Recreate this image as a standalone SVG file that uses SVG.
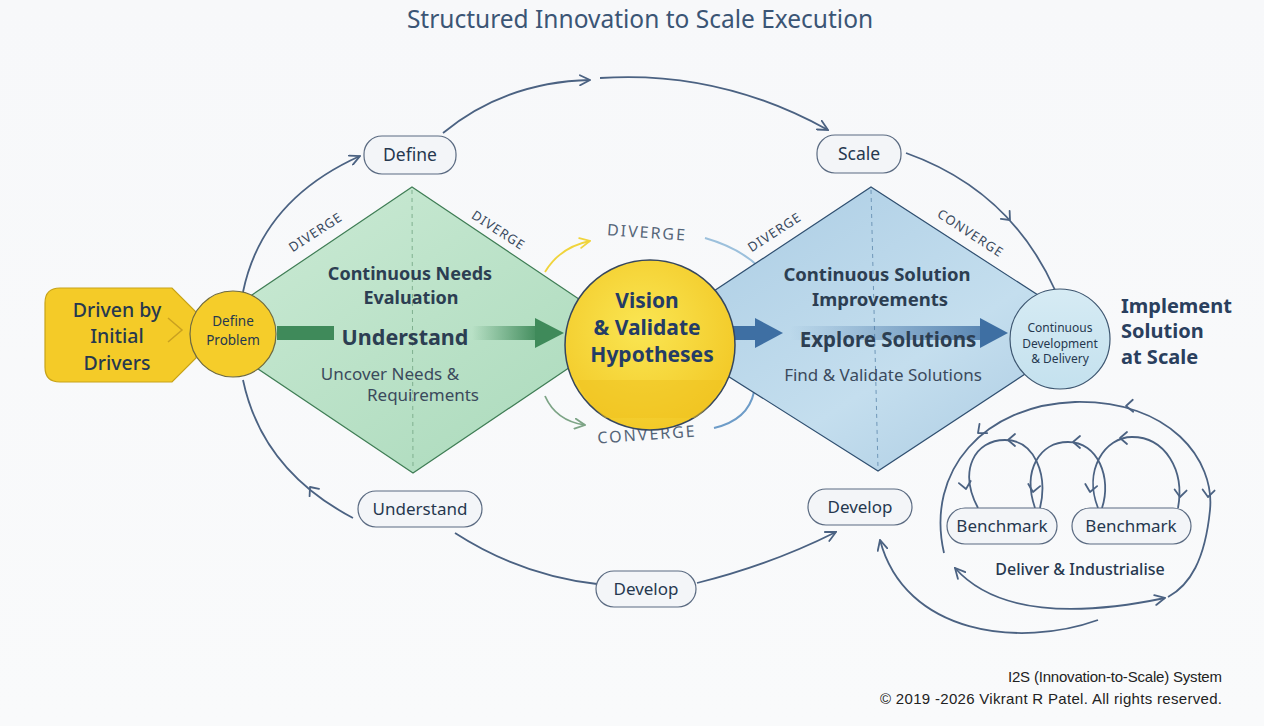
<svg xmlns="http://www.w3.org/2000/svg" width="1264" height="726" viewBox="0 0 1264 726">
<defs>
<style>
text{font-family:"Noto Sans","Open Sans","DejaVu Sans",sans-serif;fill:#26384f}
.pill{fill:#f3f5f8;stroke:#5b6b82;stroke-width:1.2}
.pt{font-size:17px;text-anchor:middle}
.con{fill:none;stroke:#4b6282;stroke-width:1.8}
.chev{fill:none;stroke:#4b6282;stroke-width:1.8;stroke-linecap:round;stroke-linejoin:round}
.edge{font-size:13px;letter-spacing:1px;text-anchor:middle;fill:#3a4a5e}
.hd{font-size:18px;font-weight:bold;text-anchor:middle;fill:#2c3e52}
.mid{font-size:21.5px;font-weight:bold;text-anchor:middle;fill:#2c3e52}
.sub{font-size:17px;text-anchor:middle;fill:#3b4a5c}
</style>
<linearGradient id="gG" x1="0" y1="0" x2="1" y2="1"><stop offset="0" stop-color="#cdebd6"/><stop offset="1" stop-color="#a9d9ba"/></linearGradient>
<linearGradient id="gB" x1="0" y1="0" x2="1" y2="1"><stop offset="0" stop-color="#a9cbe3"/><stop offset="0.6" stop-color="#c4deee"/><stop offset="1" stop-color="#a7c8e0"/></linearGradient>
<radialGradient id="gY" cx="0.45" cy="0.4" r="0.65"><stop offset="0" stop-color="#fae653"/><stop offset="1" stop-color="#f2c724"/></radialGradient>
<linearGradient id="gCD" x1="0" y1="0" x2="0" y2="1"><stop offset="0" stop-color="#d6ebf4"/><stop offset="1" stop-color="#c4e1ee"/></linearGradient>
<linearGradient id="gArG" x1="0" y1="0" x2="1" y2="0"><stop offset="0" stop-color="#3f8a5a" stop-opacity="0"/><stop offset="1" stop-color="#3f8a5a"/></linearGradient>
<linearGradient id="gArB" x1="0" y1="0" x2="1" y2="0"><stop offset="0" stop-color="#3e6fa3" stop-opacity="0"/><stop offset="1" stop-color="#3e6fa3"/></linearGradient>
<linearGradient id="gBg" x1="0" y1="0" x2="0" y2="1"><stop offset="0" stop-color="#f7f8fa"/><stop offset="1" stop-color="#f9fafb"/></linearGradient>
<marker id="ah" viewBox="0 0 12 12" refX="11" refY="6" markerWidth="12" markerHeight="12" markerUnits="userSpaceOnUse" orient="auto-start-reverse"><path d="M1,1 L11,6 L1,11" fill="none" stroke="#4b6282" stroke-width="1.8" stroke-linecap="round"/></marker>
<marker id="ahY" viewBox="0 0 12 12" refX="11" refY="6" markerWidth="12" markerHeight="12" markerUnits="userSpaceOnUse" orient="auto"><path d="M1,1 L11,6 L1,11" fill="none" stroke="#f0d43c" stroke-width="1.8" stroke-linecap="round"/></marker>
<marker id="ahGr" viewBox="0 0 12 12" refX="11" refY="6" markerWidth="12" markerHeight="12" markerUnits="userSpaceOnUse" orient="auto"><path d="M1,1 L11,6 L1,11" fill="none" stroke="#7da486" stroke-width="1.8" stroke-linecap="round"/></marker>
<path id="chev" d="M-7,-6 L0,0 L-7,6"/>
</defs>
<rect width="1264" height="726" fill="url(#gBg)"/>

<text x="640" y="28" font-size="24.5" text-anchor="middle" style="fill:#3b5575">Structured Innovation to Scale Execution</text>

<g id="connectors">
  <path class="con" d="M243,292 Q262,200 360,156" marker-end="url(#ah)"/>
  <path class="con" d="M443,133 Q505,82 590,80" marker-end="url(#ah)"/>
  <path class="con" d="M600,78 Q720,70 828,130" marker-end="url(#ah)"/>
  <path class="con" d="M906,153 Q1010,190 1055,290"/>
  <use href="#chev" class="chev" transform="translate(1010,220) rotate(47)"/>
  <path class="con" d="M243,380 Q262,470 353,518"/>
  <use href="#chev" class="chev" transform="translate(310,487) rotate(-128)"/>
  <path class="con" d="M455,533 Q520,575 597,584"/>
  <path class="con" d="M697,583 Q770,565 836,532" marker-end="url(#ah)"/>
  <path class="con" d="M1098,620 C1020,648 905,635 880,540" marker-end="url(#ah)"/>
  <path class="con" d="M955,568 Q1010,630 1165,598" marker-start="url(#ah)" marker-end="url(#ah)"/>
  <path class="con" d="M944,553 C925,470 985,405 1075,402 C1170,400 1215,460 1210,510 C1205,560 1190,585 1168,597"/>
  <use href="#chev" class="chev" transform="translate(978,433) rotate(140)"/>
  <use href="#chev" class="chev" transform="translate(1126,406) rotate(178)"/>
  <use href="#chev" class="chev" transform="translate(1208,497) rotate(95)"/>
  <path class="con" d="M978,508 C958,470 975,440 1005,440 C1035,440 1048,475 1040,508"/>
  <path class="con" d="M1035,508 C1022,470 1040,442 1068,442 C1098,442 1112,478 1102,508"/>
  <path class="con" d="M1098,508 C1083,470 1105,437 1132,437 C1165,437 1185,470 1178,508"/>
  <use href="#chev" class="chev" transform="translate(966,489) rotate(80)"/>
  <use href="#chev" class="chev" transform="translate(1008,440) rotate(180)"/>
  <use href="#chev" class="chev" transform="translate(1033,492) rotate(100)"/>
  <use href="#chev" class="chev" transform="translate(1073,442) rotate(180)"/>
  <use href="#chev" class="chev" transform="translate(1090,492) rotate(100)"/>
  <use href="#chev" class="chev" transform="translate(1120,438) rotate(180)"/>
  <use href="#chev" class="chev" transform="translate(1180,497) rotate(95)"/>
  <path d="M545,272 Q560,247 590,241" fill="none" stroke="#f0d43c" stroke-width="1.8" marker-end="url(#ahY)"/>
  <path d="M545,396 Q556,421 585,425" fill="none" stroke="#7da486" stroke-width="1.8" marker-end="url(#ahGr)"/>
  <path d="M705,238 Q740,248 760,268" fill="none" stroke="#9cc0dc" stroke-width="2"/>
  <path d="M754,392 Q748,420 714,428" fill="none" stroke="#6d9cc8" stroke-width="2"/>
</g>

<g id="diamond-green">
  <path d="M200,330 L412,187 L625,330 L413,473 Z" fill="url(#gG)" stroke="#3f7d55" stroke-width="1.2"/>
  <line x1="412" y1="190" x2="413" y2="470" stroke="#7fb08f" stroke-width="1" stroke-dasharray="4,4"/>
  <text class="edge" transform="translate(318,236) rotate(-33)">DIVERGE</text>
  <text class="edge" transform="translate(496,234) rotate(33)">DIVERGE</text>
  <text class="hd" x="410" y="280">Continuous Needs</text>
  <text class="hd" x="411" y="304">Evaluation</text>
  <rect x="277" y="326" width="57" height="14" fill="#3f8a5a"/>
  <rect x="472" y="326" width="68" height="14" fill="url(#gArG)"/>
  <path d="M535,318 L564,333 L535,348 Z" fill="#3f8a5a"/>
  <text class="mid" x="405" y="345">Understand</text>
  <text class="sub" x="390" y="380">Uncover Needs &amp;</text>
  <text class="sub" x="423" y="401">Requirements</text>
</g>

<g id="diamond-blue">
  <path d="M655,330 L871,187 L1092,330 L878,471 Z" fill="url(#gB)" stroke="#2f4f70" stroke-width="1.2"/>
  <line x1="871" y1="190" x2="878" y2="468" stroke="#6f97b8" stroke-width="1" stroke-dasharray="4,4"/>
  <text class="edge" transform="translate(777,236) rotate(-33)">DIVERGE</text>
  <text class="edge" transform="translate(968,237) rotate(33)">CONVERGE</text>
  <text class="hd" x="877" y="281" style="font-size:18.5px">Continuous Solution</text>
  <text class="hd" x="880" y="306" style="font-size:18.5px">Improvements</text>
  <rect x="730" y="326" width="30" height="14" fill="#3e6fa3"/>
  <path d="M755,318 L783,333 L755,348 Z" fill="#3e6fa3"/>
  <rect x="790" y="326" width="195" height="14" fill="url(#gArB)" opacity="0.8"/>
  <path d="M980,318 L1008,333 L980,348 Z" fill="#3e6fa3"/>
  <text class="mid" x="888" y="347" style="font-size:20.5px">Explore Solutions</text>
  <text class="sub" x="883" y="381">Find &amp; Validate Solutions</text>
</g>

<g id="center-labels">
  <text x="647" y="238" font-size="16" letter-spacing="2" text-anchor="middle" transform="rotate(4 647 233)" style="fill:#556578">DIVERGE</text>
  <text x="647" y="440" font-size="16" letter-spacing="2" text-anchor="middle" transform="rotate(-4 647 435)" style="fill:#556578">CONVERGE</text>
</g>

<g id="node-driven">
  <path d="M60,288 H172 L196,312 V358 L172,382 H60 Q45,382 45,367 V303 Q45,288 60,288 Z" fill="#f4cb28" stroke="#c7a318" stroke-width="1.2"/>
  <path d="M168,318 L182,330 L168,342" fill="none" stroke="#c9a020" stroke-width="1.5"/>
  <text x="117" y="317" font-size="19.5" font-weight="500" text-anchor="middle">Driven by</text>
  <text x="117" y="343" font-size="19.5" font-weight="500" text-anchor="middle">Initial</text>
  <text x="117" y="370" font-size="19.5" font-weight="500" text-anchor="middle">Drivers</text>
</g>

<g id="node-define-problem">
  <circle cx="233" cy="334" r="43" fill="#f5cd2a" stroke="#6e6a40" stroke-width="1.2"/>
  <text x="233" y="326" font-size="13.5" text-anchor="middle">Define</text>
  <text x="233" y="345" font-size="13.5" text-anchor="middle">Problem</text>
</g>

<g id="node-vision">
  <circle cx="650" cy="345" r="85" fill="url(#gY)" stroke="#36475e" stroke-width="1.5"/>
  <path d="M577,380 H723 Q715,405 695,418 H605 Q585,402 577,380 Z" fill="#f0c21e" opacity="0.5"/>
  <text x="647" y="308" font-size="21" font-weight="bold" text-anchor="middle" style="fill:#243c66">Vision</text>
  <text x="647" y="335" font-size="21" font-weight="bold" text-anchor="middle" style="fill:#243c66">&amp; Validate</text>
  <text x="652" y="362" font-size="21" font-weight="bold" text-anchor="middle" style="fill:#243c66">Hypotheses</text>
</g>

<g id="node-cdd">
  <circle cx="1060" cy="339" r="50" fill="url(#gCD)" stroke="#3d5670" stroke-width="1.2"/>
  <text x="1060" y="332" font-size="12" text-anchor="middle">Continuous</text>
  <text x="1060" y="348" font-size="12" text-anchor="middle">Development</text>
  <text x="1060" y="363" font-size="12" text-anchor="middle">&amp; Delivery</text>
</g>

<g id="node-implement">
  <text x="1121" y="313" font-size="20" font-weight="bold" style="fill:#2a3f5e">Implement</text>
  <text x="1121" y="338" font-size="20" font-weight="bold" style="fill:#2a3f5e">Solution</text>
  <text x="1121" y="364" font-size="20" font-weight="bold" style="fill:#2a3f5e">at Scale</text>
</g>

<g id="pill-define"><rect class="pill" x="364" y="136" width="92" height="38" rx="18"/><text class="pt" x="410" y="161" style="font-size:17.5px">Define</text></g>
<g id="pill-scale"><rect class="pill" x="817" y="135" width="84" height="38" rx="18"/><text class="pt" x="859" y="160" style="font-size:17.5px">Scale</text></g>
<g id="pill-understand"><rect class="pill" x="358" y="491" width="124" height="36" rx="18"/><text class="pt" x="420" y="515">Understand</text></g>
<g id="pill-develop-bottom"><rect class="pill" x="596" y="571" width="100" height="36" rx="18"/><text class="pt" x="646" y="595">Develop</text></g>
<g id="pill-develop-right"><rect class="pill" x="808" y="489" width="104" height="36" rx="18"/><text class="pt" x="860" y="513">Develop</text></g>
<g id="pill-benchmark-1"><rect class="pill" x="947" y="508" width="110" height="36" rx="18"/><text class="pt" x="1002" y="532">Benchmark</text></g>
<g id="pill-benchmark-2"><rect class="pill" x="1072" y="508" width="119" height="36" rx="18"/><text class="pt" x="1131" y="532">Benchmark</text></g>

<g id="label-deliver"><text x="1080" y="575" font-size="16" font-weight="500" text-anchor="middle">Deliver &amp; Industrialise</text></g>

<g id="footer">
  <text x="1222" y="682" font-size="15" text-anchor="end" textLength="214" style="font-family:'Liberation Sans',Arial,sans-serif;fill:#222">I2S (Innovation-to-Scale) System</text>
  <text x="1222" y="704" font-size="15" text-anchor="end" textLength="342" style="font-family:'Liberation Sans',Arial,sans-serif;fill:#222">© 2019 -2026 Vikrant R Patel. All rights reserved.</text>
</g>
</svg>
